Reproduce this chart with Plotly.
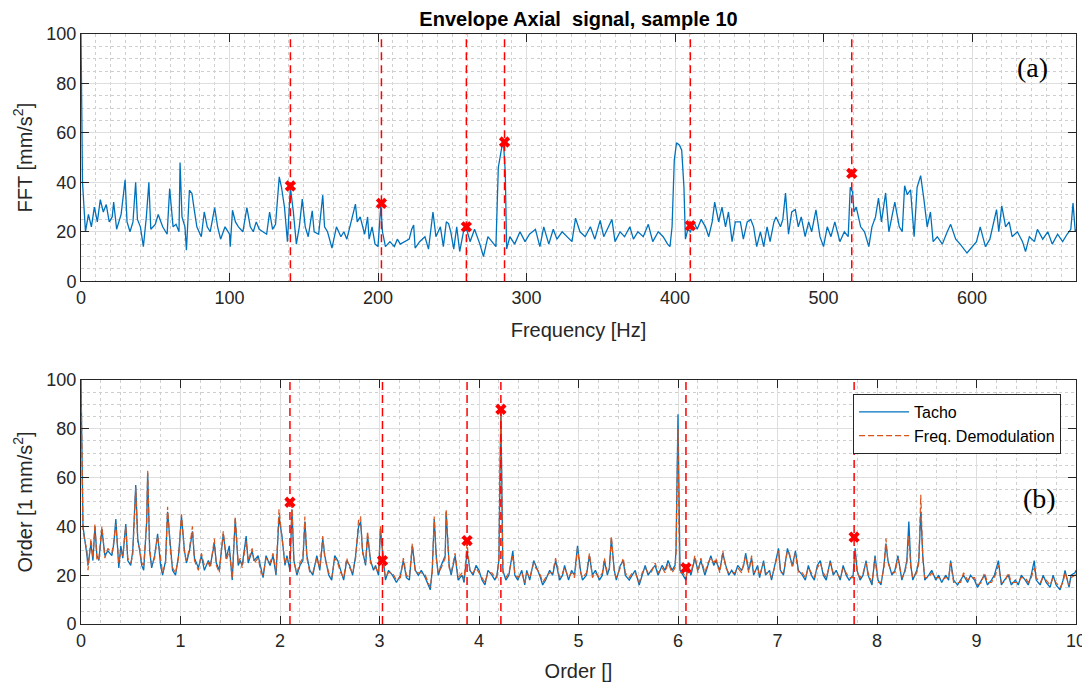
import plotly.graph_objects as go
from plotly.subplots import make_subplots

# ---------------------------------------------------------------------------
# Data
# ---------------------------------------------------------------------------

# (a) envelope FFT of the axial signal
freq_hz = [
    0, 1, 3, 5, 7, 9, 11, 13, 15, 17,
    19, 21, 22, 24, 27, 29.7, 31, 33, 35, 36.8,
    38, 40, 42, 44, 45.7, 47, 50, 52, 55, 58,
    59.7, 62, 64, 66, 66.7, 68, 70, 71, 73, 74.7,
    76, 78, 81, 83, 85, 87, 90, 92, 94, 97,
    100, 100.5, 102, 104, 106, 109, 111.7, 114, 116, 118,
    120, 123, 125, 127, 129, 131, 133.5, 135, 137, 139,
    141, 143, 145, 147, 149, 151, 153, 155.7, 157, 160,
    162.8, 164, 166, 169, 172, 175, 177, 179, 182, 184.8,
    186, 188, 191, 193, 194, 196, 198, 200, 201.9, 203,
    205, 208, 211, 213, 215, 218, 221, 222.7, 224, 225,
    228, 231.6, 234, 237, 239, 242, 244, 246, 247.5, 249,
    251, 253, 255, 257.5, 259.7, 262, 265, 268.6, 271, 274,
    277, 279.4, 281, 282, 283.3, 284.5, 285.7, 286.6, 288.8, 292,
    295.6, 299, 302, 306, 309, 311.6, 315, 318, 320.5, 324,
    327, 330.6, 333, 336, 339.5, 343, 346, 349.6, 352, 355,
    357.5, 359.6, 363, 366, 369.6, 372, 375, 378.6, 382, 385,
    388.7, 392, 395, 396.6, 398, 399.5, 401, 403, 404.5, 406,
    407, 408.6, 410.4, 412.6, 414.9, 417.6, 420.5, 422.7, 425, 426.7,
    429.4, 431.6, 434, 436, 438.4, 440.6, 444, 446, 448.6, 451,
    452.9, 455, 457.5, 459.7, 462, 464, 466.6, 468, 471, 472.6,
    474.4, 476.4, 478.6, 481, 483, 485, 487.6, 490, 492, 494.9,
    497.6, 500, 502.5, 505, 507.6, 511, 514, 516.6, 518, 519.6,
    520.5, 522, 525, 527.6, 530.5, 532.6, 535, 537, 539, 541.8,
    544, 546, 548, 551, 553, 554.6, 556.4, 558.6, 561, 563,
    565.4, 567.6, 569.8, 572, 573.8, 576.6, 580, 583.3, 585.6, 589,
    592, 596.6, 600, 603, 605.5, 609, 612, 615, 616.5, 618,
    620, 622.6, 625, 627, 630.5, 634, 636, 638.6, 642, 644,
    647.6, 651, 654, 657.6, 661, 664, 666.5, 668, 669.5, 670,
]
fft_amp = [
    100, 40, 20, 27, 22, 30, 24, 33, 28, 31,
    24, 26, 32, 21, 27, 41, 24, 20, 24, 40,
    25, 22, 14, 26, 40, 21, 23, 27, 22, 19,
    37.5, 22, 23, 20, 48, 26, 22, 12.5, 36.8, 35.5,
    30, 22, 18, 28, 22, 20, 29.8, 22, 17, 22,
    19, 14, 28.7, 24, 22, 20, 29.8, 22, 20, 24,
    21, 20, 19, 28, 21, 23, 42.2, 38, 30, 16,
    38, 28, 15, 22, 33.2, 22, 18, 28.5, 20, 19,
    34.8, 22, 20, 13.4, 22, 18, 20, 17, 25, 31.2,
    24, 26, 19, 26, 17, 22, 15, 14, 31, 20,
    14, 16, 14, 17, 15, 16, 17, 21, 22.7, 13.4,
    16, 18, 13, 28, 18, 22, 14, 24, 23.3, 20,
    13, 22, 12, 20, 21, 16, 21, 15, 10, 18,
    16, 14, 46, 50, 54, 56, 44, 13, 18, 15,
    20, 16, 19, 21, 14, 22, 15, 21, 17, 20,
    18, 16, 25.5, 20, 18, 22, 17, 24.6, 18, 22,
    25, 16, 20, 18, 22, 17, 20, 18, 23, 16,
    20, 18, 15, 14, 22, 49, 56, 55, 53, 38,
    17, 21, 20, 24, 21, 25, 22, 18, 24, 32,
    24, 30, 22, 28, 16, 24, 24, 17, 24, 25,
    22, 14, 20, 14, 22, 16, 24, 26, 22, 25,
    35.7, 19, 28, 29, 22, 26, 18, 24, 20, 28.9,
    18, 14, 22, 18, 24, 16, 20, 18, 38, 36,
    28, 30, 22, 20, 14, 22, 26, 33.6, 24, 35.7,
    20, 26, 32, 22, 20, 38.6, 35, 37, 18, 38,
    42.7, 33, 22, 28, 16, 18, 15, 20, 23, 17,
    15, 11.4, 14, 16, 22, 14, 17, 25, 29, 20,
    30.5, 22, 24, 18, 20, 16, 12, 18, 16, 21,
    17, 20, 15, 19, 16, 19, 21, 31.6, 20, 21,
]
fft_peak_hz = [141, 202.3, 259.5, 285.2, 410.3, 519]
fft_peak_amp = [38.5, 31.5, 22, 56.3, 22.5, 43.6]

# (b) order spectrum, tacho vs frequency demodulation
order_x = [
    0.00, 0.02, 0.06, 0.07, 0.10, 0.12, 0.14, 0.16, 0.18, 0.21,
    0.24, 0.27, 0.31, 0.33, 0.35, 0.38, 0.40, 0.42, 0.45, 0.47,
    0.50, 0.52, 0.55, 0.57, 0.59, 0.61, 0.63, 0.66, 0.67, 0.69,
    0.71, 0.74, 0.77, 0.80, 0.82, 0.85, 0.87, 0.90, 0.92, 0.95,
    0.98, 1.01, 1.04, 1.06, 1.09, 1.12, 1.14, 1.18, 1.21, 1.24,
    1.28, 1.30, 1.34, 1.36, 1.39, 1.43, 1.46, 1.49, 1.52, 1.55,
    1.58, 1.60, 1.62, 1.66, 1.68, 1.72, 1.74, 1.78, 1.81, 1.83,
    1.86, 1.90, 1.93, 1.96, 1.99, 2.02, 2.05, 2.07, 2.10, 2.12,
    2.14, 2.17, 2.20, 2.23, 2.25, 2.27, 2.30, 2.33, 2.37, 2.40,
    2.43, 2.45, 2.49, 2.52, 2.55, 2.58, 2.61, 2.64, 2.67, 2.70,
    2.73, 2.76, 2.79, 2.81, 2.83, 2.86, 2.88, 2.91, 2.94, 2.96,
    2.99, 3.01, 3.04, 3.06, 3.09, 3.13, 3.17, 3.21, 3.24, 3.27,
    3.30, 3.33, 3.36, 3.39, 3.42, 3.46, 3.51, 3.53, 3.55, 3.57,
    3.59, 3.62, 3.66, 3.67, 3.70, 3.72, 3.76, 3.79, 3.83, 3.85,
    3.88, 3.91, 3.94, 3.97, 4.00, 4.03, 4.06, 4.09, 4.13, 4.16,
    4.18, 4.20, 4.21, 4.22, 4.23, 4.24, 4.27, 4.30, 4.34, 4.36,
    4.39, 4.43, 4.46, 4.48, 4.51, 4.55, 4.57, 4.61, 4.64, 4.67,
    4.71, 4.74, 4.77, 4.81, 4.84, 4.86, 4.90, 4.93, 4.96, 4.99,
    5.02, 5.04, 5.08, 5.11, 5.14, 5.17, 5.21, 5.24, 5.26, 5.29,
    5.31, 5.33, 5.36, 5.38, 5.42, 5.45, 5.47, 5.51, 5.54, 5.57,
    5.61, 5.64, 5.67, 5.70, 5.73, 5.77, 5.80, 5.84, 5.87, 5.90,
    5.94, 5.97, 5.98, 6.00, 6.01, 6.02, 6.05, 6.08, 6.10, 6.13,
    6.17, 6.20, 6.23, 6.27, 6.30, 6.33, 6.36, 6.38, 6.42, 6.45,
    6.48, 6.51, 6.54, 6.57, 6.60, 6.64, 6.66, 6.68, 6.71, 6.74,
    6.76, 6.80, 6.82, 6.86, 6.88, 6.92, 6.94, 6.97, 7.01, 7.03,
    7.06, 7.10, 7.12, 7.15, 7.18, 7.21, 7.25, 7.28, 7.31, 7.34,
    7.37, 7.40, 7.43, 7.46, 7.49, 7.53, 7.56, 7.59, 7.63, 7.66,
    7.69, 7.72, 7.76, 7.78, 7.80, 7.83, 7.86, 7.89, 7.91, 7.95,
    7.98, 8.01, 8.04, 8.07, 8.09, 8.11, 8.15, 8.18, 8.21, 8.25,
    8.28, 8.30, 8.32, 8.34, 8.36, 8.40, 8.42, 8.44, 8.46, 8.48,
    8.52, 8.55, 8.59, 8.62, 8.65, 8.69, 8.72, 8.74, 8.77, 8.81,
    8.84, 8.87, 8.91, 8.94, 8.98, 9.01, 9.05, 9.08, 9.11, 9.15,
    9.18, 9.22, 9.25, 9.28, 9.32, 9.35, 9.39, 9.42, 9.45, 9.49,
    9.52, 9.55, 9.58, 9.60, 9.64, 9.67, 9.70, 9.74, 9.77, 9.80,
    9.84, 9.87, 9.89, 9.93, 9.95, 9.99, 10.00,
]
tacho_amp = [
    100, 40, 28, 24, 33, 26, 40, 28, 26, 39,
    28, 30, 28, 33, 43, 23, 32, 27, 41, 26,
    24, 30, 57, 35, 30, 24, 22, 42, 62, 30,
    23, 28, 37, 24, 20, 26, 46, 30, 22, 20,
    28, 44, 30, 25, 30, 38, 27, 23, 28, 22,
    26, 24, 33, 25, 22, 37, 27, 32, 18, 43,
    24, 26, 24, 36, 25, 30, 26, 28, 22, 19,
    28, 24, 28, 20, 44, 36, 24, 28, 22, 47,
    26, 20, 24, 26, 42, 28, 22, 20, 28, 22,
    35, 28, 20, 18, 28, 26, 22, 18, 26, 24,
    20, 28, 40, 42, 30, 24, 36, 26, 22, 24,
    20, 39, 26, 18, 22, 20, 17, 20, 26, 19,
    18, 32, 22, 20, 22, 19, 14, 22, 43, 28,
    20, 24, 28, 46, 24, 20, 28, 18, 20, 17,
    30, 22, 20, 24, 22, 18, 16, 22, 20, 18,
    20, 26, 60, 87, 55, 22, 18, 20, 30, 20,
    18, 22, 16, 22, 18, 26, 24, 20, 16, 18,
    22, 20, 26, 18, 20, 24, 18, 22, 20, 32,
    22, 18, 20, 28, 20, 22, 18, 20, 26, 20,
    23, 35, 22, 18, 24, 26, 20, 18, 20, 22,
    16, 20, 24, 20, 22, 24, 20, 24, 22, 26,
    22, 24, 30, 86, 40, 22, 20, 18, 24, 20,
    27, 22, 26, 20, 24, 28, 24, 26, 22, 29,
    24, 20, 22, 20, 24, 22, 24, 29, 22, 27,
    20, 24, 19, 26, 20, 22, 18, 24, 31, 22,
    20, 31, 28, 24, 30, 22, 20, 18, 24, 20,
    18, 24, 26, 20, 18, 26, 20, 22, 18, 24,
    20, 18, 20, 31, 22, 18, 20, 26, 20, 16,
    28, 18, 16, 24, 33, 26, 20, 22, 28, 18,
    22, 26, 42, 24, 18, 22, 26, 46, 28, 18,
    20, 22, 18, 20, 17, 20, 18, 26, 18, 16,
    18, 20, 17, 20, 18, 15, 18, 20, 16, 18,
    20, 26, 16, 18, 20, 16, 18, 16, 20, 18,
    16, 20, 26, 18, 16, 20, 17, 15, 20, 16,
    14, 18, 22, 15, 20, 21, 22,
]
demod_amp = [
    100, 38, 30, 22, 35, 27, 41, 26, 27, 40,
    27, 31, 29, 34, 41, 25, 30, 28, 40, 27,
    25, 28, 56, 33, 31, 25, 24, 41, 63, 31,
    24, 27, 36, 26, 21, 25, 48, 29, 23, 21,
    27, 45, 29, 26, 31, 40, 26, 22, 29, 24,
    25, 23, 35, 24, 21, 38, 26, 30, 19, 44,
    25, 27, 23, 34, 26, 31, 25, 27, 21, 20,
    27, 25, 29, 21, 47, 35, 25, 27, 23, 49,
    25, 21, 25, 27, 44, 27, 21, 21, 27, 23,
    36, 27, 21, 19, 27, 25, 21, 19, 27, 23,
    21, 27, 43, 44, 29, 25, 38, 25, 23, 23,
    21, 40, 25, 19, 21, 21, 18, 19, 27, 20,
    19, 33, 21, 21, 21, 20, 15, 21, 44, 27,
    21, 23, 27, 47, 23, 21, 29, 19, 21, 18,
    33, 21, 21, 23, 21, 19, 17, 21, 21, 19,
    19, 27, 58, 87, 53, 21, 19, 21, 28, 21,
    19, 21, 17, 21, 19, 25, 23, 21, 17, 19,
    21, 21, 27, 19, 21, 23, 19, 21, 19, 31,
    21, 19, 21, 29, 19, 21, 19, 21, 27, 21,
    22, 36, 21, 19, 23, 27, 21, 19, 21, 21,
    17, 21, 23, 21, 21, 25, 21, 23, 21, 25,
    21, 23, 29, 80, 38, 21, 21, 19, 23, 21,
    28, 21, 27, 21, 25, 27, 25, 27, 21, 30,
    23, 21, 21, 21, 23, 21, 25, 28, 21, 28,
    21, 23, 20, 25, 21, 21, 19, 23, 30, 21,
    21, 30, 29, 23, 29, 21, 21, 19, 23, 21,
    19, 23, 25, 21, 19, 25, 21, 21, 19, 23,
    21, 19, 19, 30, 21, 19, 21, 25, 21, 17,
    27, 17, 17, 23, 35, 25, 21, 21, 27, 19,
    21, 25, 36, 23, 19, 21, 25, 53, 27, 19,
    19, 21, 19, 19, 18, 19, 19, 25, 17, 17,
    17, 21, 18, 19, 19, 16, 17, 21, 17, 17,
    19, 24, 17, 17, 21, 17, 17, 17, 19, 19,
    17, 19, 23, 19, 17, 19, 18, 16, 19, 17,
    15, 17, 21, 16, 19, 20, 21,
]
order_peak = [2.10, 3.03, 3.88, 4.22, 6.08, 7.77]
order_peak_amp = [49.9, 26, 34.2, 88, 23, 35.6]

hz_ticks = [0, 100, 200, 300, 400, 500, 600]
order_ticks = [0, 1, 2, 3, 4, 5, 6, 7, 8, 9, 10]
amp_ticks = [0, 20, 40, 60, 80, 100]

# ---------------------------------------------------------------------------
# Style
# ---------------------------------------------------------------------------

BLUE = "#0072BD"
ORANGE = "#D95319"
RED = "#FF0000"
AX = "#262626"
FONT = "Liberation Sans, Arial, sans-serif"
SERIF = "Liberation Serif, Times New Roman, serif"

# the page body adds an 8 px offset, so the figure is 8 px smaller
W, H = 1082, 678

fig = make_subplots(rows=2, cols=1)

# Panel (a)
fig.add_trace(go.Scatter(x=freq_hz, y=fft_amp, mode="lines",
                         line=dict(color=BLUE, width=1.3), showlegend=False), row=1, col=1)
fig.add_trace(go.Scatter(x=fft_peak_hz, y=fft_peak_amp, mode="markers",
                         marker=dict(symbol="x", size=10, color=RED), showlegend=False), row=1, col=1)
for f in fft_peak_hz:
    fig.add_vline(x=f, line=dict(color=RED, width=1.5, dash="8px,5px"), row=1, col=1)

# Panel (b)
fig.add_trace(go.Scatter(x=order_x, y=tacho_amp, mode="lines", name="Tacho",
                         line=dict(color=BLUE, width=1.3)), row=2, col=1)
fig.add_trace(go.Scatter(x=order_x, y=demod_amp, mode="lines", name="Freq. Demodulation",
                         line=dict(color=ORANGE, width=1.2, dash="6px,3px")), row=2, col=1)
fig.add_trace(go.Scatter(x=order_peak, y=order_peak_amp, mode="markers",
                         marker=dict(symbol="x", size=10, color=RED), showlegend=False), row=2, col=1)
for o in order_peak:
    fig.add_vline(x=o, line=dict(color=RED, width=1.5, dash="8px,5px"), row=2, col=1)

axis_common = dict(
    showline=True, linecolor=AX, linewidth=1, mirror="ticks",
    ticks="inside", ticklen=8, tickcolor=AX,
    showgrid=True, gridcolor="#dedede", gridwidth=1,
    zeroline=False, automargin=False,
    tickfont=dict(family=FONT, size=18, color=AX),
    title_font=dict(family=FONT, size=20, color=AX),
)

fig.update_xaxes(**axis_common)
fig.update_yaxes(**axis_common)

fig.update_xaxes(range=[0, 670], tickvals=hz_ticks,
                 minor=dict(dtick=10, showgrid=True, gridcolor="#cfcfcf", griddash="dot"),
                 title=dict(text="Frequency [Hz]", standoff=16), row=1, col=1)
fig.update_yaxes(range=[0, 100], tickvals=amp_ticks, domain=[0.581, 1.0],
                 minor=dict(dtick=5, showgrid=True, gridcolor="#cfcfcf", griddash="dot"),
                 title=dict(text="FFT [mm/s<sup>2</sup>]", standoff=8), row=1, col=1)
fig.update_xaxes(range=[0, 10], tickvals=order_ticks,
                 minor=dict(dtick=0.2, showgrid=True, gridcolor="#cfcfcf", griddash="dot"),
                 title=dict(text="Order []", standoff=14), row=2, col=1)
fig.update_yaxes(range=[0, 100], tickvals=amp_ticks, domain=[0.0, 0.4136],
                 minor=dict(dtick=5, showgrid=True, gridcolor="#cfcfcf", griddash="dot"),
                 title=dict(text="Order [1 mm/s<sup>2</sup>]", standoff=8), row=2, col=1)

fig.add_annotation(text="(a)", x=0.956, y=0.944, xref="paper", yref="paper",
                   xanchor="center", yanchor="middle", showarrow=False,
                   font=dict(family=SERIF, size=28, color="black"))
fig.add_annotation(text="(b)", x=0.963, y=0.212, xref="paper", yref="paper",
                   xanchor="center", yanchor="middle", showarrow=False,
                   font=dict(family=SERIF, size=28, color="black"))

fig.update_layout(
    width=W, height=H,
    margin=dict(l=73, r=14, t=26, b=62),
    paper_bgcolor="white", plot_bgcolor="white",
    title=dict(text="<b>Envelope Axial \u00a0signal, sample 10</b>", x=0.5, xref="paper",
               y=1 - 10.5 / H, yref="container", yanchor="middle",
               font=dict(family=FONT, size=20, color="black")),
    legend=dict(x=0.985, y=0.39, xanchor="right", yanchor="top",
                bgcolor="white", bordercolor=AX, borderwidth=1, itemwidth=50,
                font=dict(family=FONT, size=16, color="black")),
    showlegend=True,
)

fig.write_html("out.html")
